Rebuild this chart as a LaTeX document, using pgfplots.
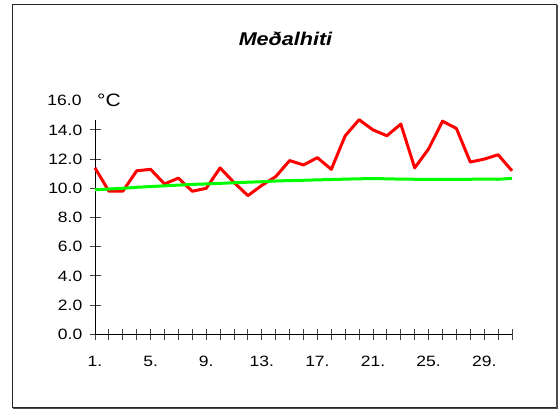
\documentclass[border=0pt]{standalone}
\usepackage{fontspec}
\setmainfont{Liberation Sans}[FakeStretch=1.17]
\usepackage{pgfplots}
\pgfplotsset{compat=1.18}
\begin{document}
\begin{tikzpicture}[x=1bp,y=1bp]
\path (0,0) rectangle (559,410);
\draw[line width=1bp, black!85] (12.5,2.5) rectangle (556,405.5);
\draw[line width=1.5bp, black!70] (13,1.75) -- (556.75,1.75) -- (556.75,405);
\node[font=\fontsize{18.5}{22}\selectfont\bfseries\itshape, inner sep=0pt] at (285.5,371) {Meðalhiti};
\begin{axis}[
  at={(95bp,75.7bp)}, anchor=south west,
  scale only axis, width=417bp, height=214.6bp,
  xmin=1, xmax=31, ymin=0, ymax=14.7,
  clip=false,
  axis lines*=left, axis line style={-, line width=0.9bp, black},
  tick align=center, major tick length=11bp,
  tick style={line width=0.9bp, black!75},
  xtick={1,...,31},
  xticklabels={1.,,,,5.,,,,9.,,,,13.,,,,17.,,,,21.,,,,25.,,,,29.,,},
  ytick={0,2,...,14},
  yticklabel={\pgfmathprintnumber[fixed,fixed zerofill,precision=1]{\tick}},
  /pgf/number format/assume math mode=true,
  tick label style={font=\fontsize{15}{18}\selectfont, inner sep=0pt},
  xticklabel style={anchor=north, yshift=-16.5bp},
  yticklabel style={anchor=east, xshift=-7bp},
]
\addplot[color=red, line width=3bp, line join=round, mark=none] coordinates {
(1,11.4) (2,9.8) (3,9.8) (4,11.2) (5,11.3) (6,10.3) (7,10.7) (8,9.8) (9,10.0) (10,11.4)
(11,10.4) (12,9.5) (13,10.2) (14,10.8) (15,11.9) (16,11.6) (17,12.1) (18,11.3) (19,13.6) (20,14.7)
(21,14.0) (22,13.6) (23,14.4) (24,11.4) (25,12.7) (26,14.6) (27,14.1) (28,11.8) (29,12.0) (30,12.3) (31,11.2)
};
\addplot[color=green, line width=3bp, line join=round, mark=none] coordinates {
(1,9.9) (2,9.95) (3,10.0) (4,10.07) (5,10.12) (6,10.17) (7,10.22) (8,10.27) (9,10.3) (10,10.34)
(11,10.38) (12,10.42) (13,10.45) (14,10.5) (15,10.53) (16,10.55) (17,10.58) (18,10.6) (19,10.63) (20,10.65)
(21,10.67) (22,10.65) (23,10.63) (24,10.62) (25,10.62) (26,10.62) (27,10.62) (28,10.62) (29,10.63) (30,10.62) (31,10.68)
};
\node[anchor=east, inner sep=0pt, font=\fontsize{15}{18}\selectfont] at ([xshift=-13.3bp]axis cs:1,16) {16.0};
\node[anchor=west, inner sep=0pt, font=\fontsize{18}{20}\selectfont] at ([xshift=2bp]axis cs:1,16) {°C};
\end{axis}
\end{tikzpicture}
\end{document}
